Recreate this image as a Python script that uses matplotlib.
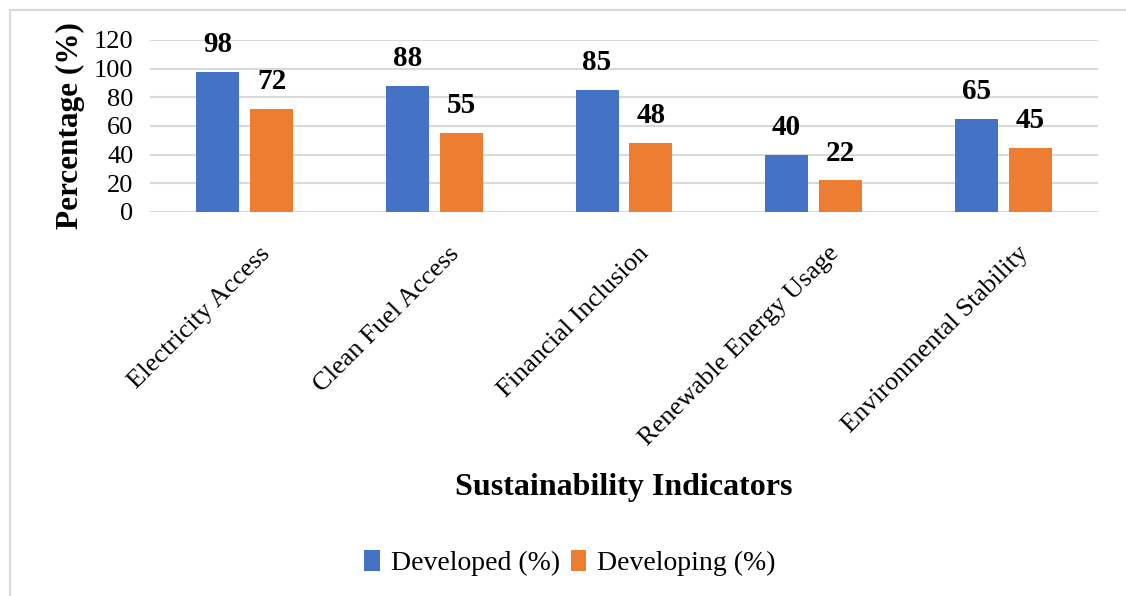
import matplotlib
matplotlib.use('Agg')
import matplotlib.pyplot as plt
import numpy as np
from matplotlib.patches import Rectangle
from matplotlib.transforms import ScaledTranslation

plt.rcParams['font.family'] = ['Liberation Serif', 'DejaVu Serif']

# Sustainability indicators, developed vs developing countries
indicators = ['Electricity Access', 'Clean Fuel Access', 'Financial Inclusion',
              'Renewable Energy Usage', 'Environmental Stability']
developed = [98, 88, 85, 40, 65]
developing = [72, 55, 48, 22, 45]
y_ticks = [0, 20, 40, 60, 80, 100, 120]

blue = '#4472c4'
orange = '#ed7d31'

fig = plt.figure(figsize=(11.26, 5.96), dpi=100)
ax = fig.add_axes([150/1126, 1 - 212/596, 948/1126, 172/596])

# light frame around the chart area
fig.patches.append(Rectangle((10/1126, -0.05), 1.2, 1 - 10/596 + 0.05,
                             transform=fig.transFigure, fill=False,
                             edgecolor='#d9d9d9', linewidth=1.5))

x = np.arange(len(indicators))
width = 0.226
off = 0.142
b1 = ax.bar(x - off, developed, width, color=blue, label='Developed (%)', zorder=3)
b2 = ax.bar(x + off, developing, width, color=orange, label='Developing (%)', zorder=3)

for bars in (b1, b2):
    for bar in bars:
        h = bar.get_height()
        ax.annotate(f'{h:.0f}', xy=(bar.get_x() + bar.get_width()/2, h),
                    xytext=(0, 10), textcoords='offset points', ha='center',
                    va='bottom', fontsize=21, fontweight='bold')

ax.set_xlim(-0.5, len(indicators) - 0.5)
ax.set_ylim(0, 120)
ax.set_yticks(y_ticks)
ax.tick_params(axis='y', length=0, pad=12, labelsize=19)
ax.grid(axis='y', color='#d9d9d9', linewidth=1.5, zorder=0)
for s in ax.spines.values():
    s.set_visible(False)

ax.set_xticks(x)
ax.set_xticklabels(indicators, rotation=45, ha='right', rotation_mode='anchor',
                   fontsize=19)
ax.tick_params(axis='x', length=0, pad=22)
for lbl in ax.get_xticklabels():
    lbl.set_transform(lbl.get_transform() + ScaledTranslation(0.14, 0, fig.dpi_scale_trans))

ax.set_ylabel('Percentage (%)', fontsize=22.5, fontweight='bold', labelpad=6)
fig.text(624/1126, 1 - 487/596, 'Sustainability Indicators', ha='center',
         va='center', fontsize=23, fontweight='bold')

fig.legend(handles=[b1, b2], loc='center', bbox_to_anchor=(570/1126, 1 - 563/596),
           ncol=2, frameon=False, fontsize=20, handlelength=0.55, handleheight=0.8,
           handletextpad=0.4, columnspacing=0.4)

plt.savefig('out.png', dpi=100)
